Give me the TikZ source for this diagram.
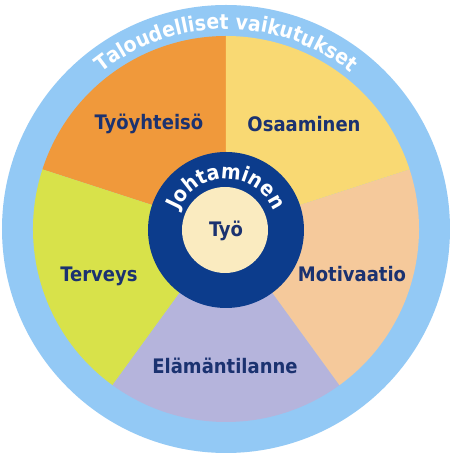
\documentclass[tikz,border=0pt]{standalone}
\usepackage{fontspec}
\setmainfont{DejaVu Sans Condensed}
\usetikzlibrary{decorations.text}
\definecolor{ringblue}{HTML}{93C9F5}
\definecolor{orangeseg}{HTML}{F0993B}
\definecolor{yellowseg}{HTML}{F9D973}
\definecolor{peachseg}{HTML}{F5C99B}
\definecolor{lavseg}{HTML}{B5B4DC}
\definecolor{greenseg}{HTML}{D8E24A}
\definecolor{leadblue}{HTML}{0C3C8C}
\definecolor{workcream}{HTML}{FAEBC0}
\definecolor{labelnavy}{HTML}{1B3270}

\begin{document}
\begin{tikzpicture}[x=1pt, y=1pt]
\tikzstyle{sector_lbl}=[text=labelnavy, anchor=base, inner sep=0pt, font=\bfseries\fontsize{20}{20}\selectfont]
\tikzstyle{core}=[circle, inner sep=0pt]
%
\useasboundingbox (-226,-225) rectangle (230,229);
\fill[white] (-226,-225) rectangle (230,229);
\fill[ringblue] (0,0) circle (224);

% five sectors
\foreach \col [count=\i from 0] in {orangeseg, greenseg, lavseg, peachseg, yellowseg}
	\fill[\col] (0,0) -- (90+72*\i:193) arc (90+72*\i:162+72*\i:193) -- cycle;

\path[decorate, decoration={text along path, text align=center,
	text={|\color{white}\bfseries\fontsize{21}{21}\selectfont|Taloudelliset vaikutukset}}]
	(170:200) arc (170:10:200);

\node [sector_lbl] (tyoyhteiso) at (-77,99) {Työyhteisö};
\node [sector_lbl] (osaaminen) at (78,97) {Osaaminen};
\node [sector_lbl] (terveys) at (-127,-53) {Terveys};
\node [sector_lbl] (motivaatio) at (126,-53) {Motivaatio};
\node [sector_lbl] (elama) at (-1,-145) {Elämäntilanne};

% centre
\node [core, fill=leadblue, minimum size=156pt] (johto) at (0,-1) {};
\node [core, fill=workcream, minimum size=86pt] (tyo) at (-1,-1) {};
\node [sector_lbl] (tyolbl) at (0,-8) {Työ};
\path[decorate, decoration={text along path, text align=center,
	text={|\color{white}\bfseries\fontsize{21}{21}\selectfont|Johtaminen}}]
	([shift={(johto.center)}]175:51) arc (175:5:51);
%
\end{tikzpicture}
\end{document}
